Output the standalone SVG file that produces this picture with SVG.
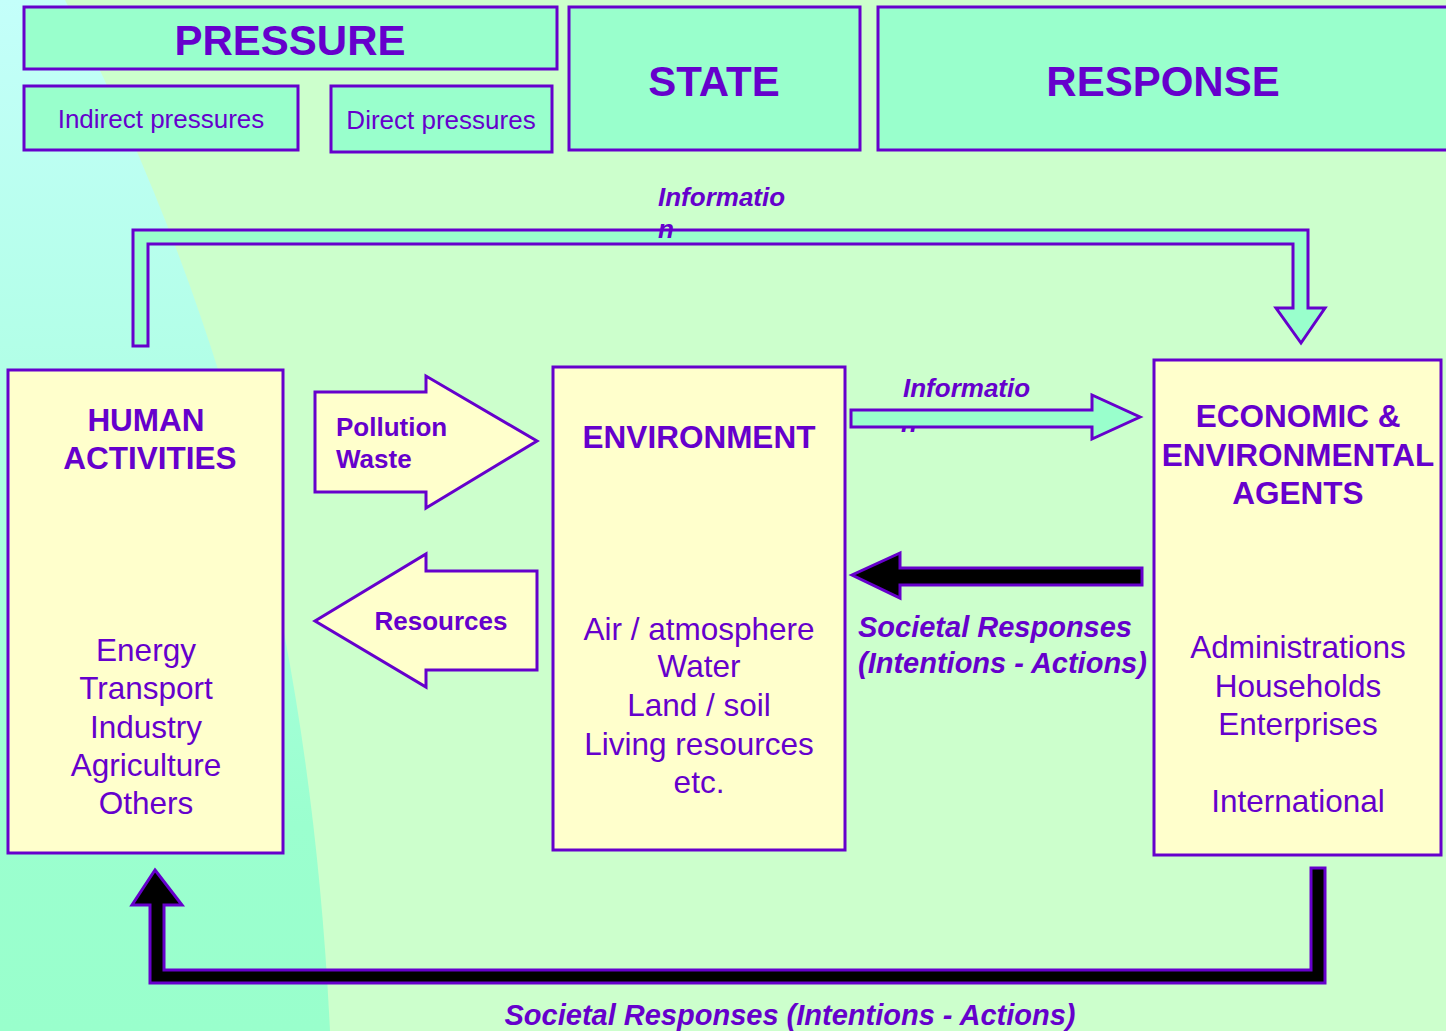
<svg xmlns="http://www.w3.org/2000/svg" width="1446" height="1031" viewBox="0 0 1446 1031">
<defs>
<linearGradient id="cy" gradientUnits="userSpaceOnUse" x1="0" y1="0" x2="0" y2="1031">
<stop offset="0" stop-color="#c4fffa"/>
<stop offset="0.8" stop-color="#9bffcf"/>
<stop offset="1" stop-color="#99ffcc"/>
</linearGradient>
<style>
.hdr{fill:#99ffcc;stroke:#6600cc;stroke-width:3}
.box{fill:#ffffcc;stroke:#6600cc;stroke-width:3}
.cyanarrow{fill:#99ffcc;stroke:#6600cc;stroke-width:3;stroke-linejoin:miter}
.blk{fill:#000;stroke:#6600cc;stroke-width:3}
text{font-family:"Liberation Sans",Arial,sans-serif;fill:#6600cc}
.big{font-size:42px;font-weight:bold;text-anchor:middle}
.sub{font-size:26px;text-anchor:middle}
.ttl{font-size:31.5px;font-weight:bold;text-anchor:middle}
.lst{font-size:31.5px;text-anchor:middle}
.lbl{font-size:26px;font-weight:bold}
.inf{font-size:26px;font-weight:bold;font-style:italic}
.soc{font-size:29px;font-weight:bold;font-style:italic}
</style>
</defs>
<rect x="0" y="0" width="1446" height="1031" fill="#ccffcc"/>
<path d="M0,0 L65,0 C220,300 310,620 330,1031 L0,1031 Z" fill="url(#cy)"/>

<g id="pressure"><rect class="hdr" x="24" y="7" width="533" height="62"/><text class="big" x="290" y="55">PRESSURE</text></g>
<g id="indirect"><rect class="hdr" x="24" y="86" width="274" height="64"/><text class="sub" x="161" y="128">Indirect pressures</text></g>
<g id="direct"><rect class="hdr" x="331" y="86" width="221" height="66"/><text class="sub" x="441" y="129">Direct pressures</text></g>
<g id="state"><rect class="hdr" x="569" y="7" width="291" height="143"/><text class="big" x="714" y="96">STATE</text></g>
<g id="response"><rect class="hdr" x="878" y="7" width="580" height="143"/><text class="big" x="1163" y="96">RESPONSE</text></g>

<g id="human"><rect class="box" x="8" y="370" width="275" height="483"/>
<text class="ttl" x="146" y="431">HUMAN</text><text class="ttl" x="150" y="469">ACTIVITIES</text>
<text class="lst" x="146" y="661">Energy</text><text class="lst" x="146" y="699">Transport</text><text class="lst" x="146" y="738">Industry</text><text class="lst" x="146" y="776">Agriculture</text><text class="lst" x="146" y="814">Others</text></g>

<g id="environment"><rect class="box" x="553" y="367" width="292" height="483"/>
<text class="ttl" x="699" y="448">ENVIRONMENT</text>
<text class="lst" x="699" y="640">Air / atmosphere</text><text class="lst" x="699" y="677">Water</text><text class="lst" x="699" y="716">Land / soil</text><text class="lst" x="699" y="755">Living resources</text><text class="lst" x="699" y="793">etc.</text></g>

<g id="agents"><rect class="box" x="1154" y="360" width="287" height="495"/>
<text class="ttl" x="1298" y="427">ECONOMIC &amp;</text><text class="ttl" x="1298" y="466">ENVIRONMENTAL</text><text class="ttl" x="1298" y="504">AGENTS</text>
<text class="lst" x="1298" y="658">Administrations</text><text class="lst" x="1298" y="697">Households</text><text class="lst" x="1298" y="735">Enterprises</text><text class="lst" x="1298" y="812">International</text></g>

<g id="connectors">
<g id="pollution"><polygon class="box" points="315,392 426,392 426,376 537,441 426,508 426,492 315,492"/>
<text class="lbl" x="336" y="436">Pollution</text><text class="lbl" x="336" y="468">Waste</text></g>
<g id="resources"><polygon class="box" points="537,571 426,571 426,554 315,621 426,687 426,670 537,670"/>
<text class="lbl" x="441" y="630" text-anchor="middle">Resources</text></g>
<g id="info-top"><text class="inf" x="658" y="206">Informatio</text>
<path class="cyanarrow" d="M133,346 L133,230 L1308,230 L1308,308 L1325,308 L1301,343 L1276,308 L1293,308 L1293,244 L148,244 L148,346 Z"/>
<text class="inf" x="658" y="238">n</text></g>
<g id="info-mid"><text class="inf" x="903" y="397">Informatio</text><text class="inf" x="901" y="432">n</text>
<path class="cyanarrow" d="M851,410 L1092,410 L1092,395 L1140,417 L1092,439 L1092,427 L851,427 Z"/></g>
<g id="societal-mid"><path class="blk" d="M1142,568 L900,568 L900,553 L852,575 L900,598 L900,585 L1142,585 Z"/>
<text class="soc" x="858" y="637">Societal Responses</text><text class="soc" x="858" y="673">(Intentions - Actions)</text></g>
<g id="societal-bottom"><path class="blk" d="M155,870 L182,905 L164,905 L164,970 L1311,970 L1311,868 L1325,868 L1325,983 L150,983 L150,905 L132,905 Z"/>
<text class="soc" x="790" y="1025" text-anchor="middle">Societal Responses (Intentions - Actions)</text></g>
</g>
</svg>
